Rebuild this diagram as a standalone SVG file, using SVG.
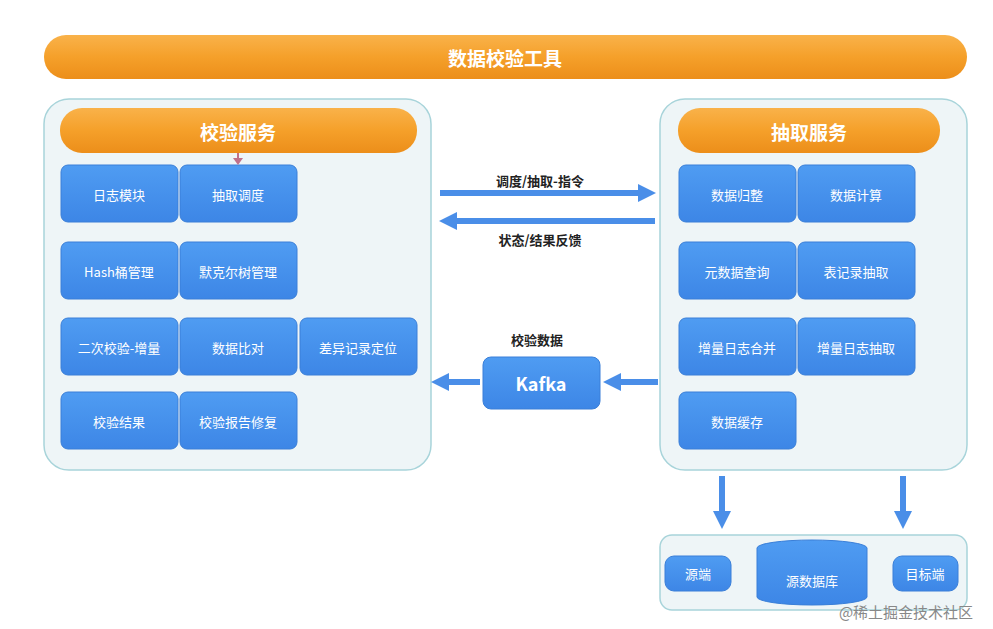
<svg xmlns="http://www.w3.org/2000/svg" width="993" height="629" viewBox="0 0 993 629">
<defs>
<linearGradient id="og" x1="0" y1="0" x2="0" y2="1"><stop offset="0" stop-color="#f9b24a"/><stop offset="0.5" stop-color="#f5a02a"/><stop offset="1" stop-color="#ec8e1a"/></linearGradient>
<linearGradient id="bg" x1="0" y1="0" x2="0" y2="1"><stop offset="0" stop-color="#4f9cf2"/><stop offset="1" stop-color="#3d86e6"/></linearGradient>
<marker id="ah" viewBox="0 0 10 10" refX="5" refY="5" markerWidth="3" markerHeight="3" orient="auto-start-reverse"><path d="M0,0 L10,5 L0,10 z" fill="#4a8ee8"/></marker>
</defs>
<style>
text{font-family:"Noto Sans CJK SC","Liberation Sans",sans-serif;text-anchor:middle;dominant-baseline:central}
.hdr{fill:url(#og)}
.ht{fill:#fff;font-size:19px;font-weight:bold}
.box{fill:#eef5f7;stroke:#a8d4da;stroke-width:1.5}
.n{fill:url(#bg);stroke:#3a7fd8;stroke-width:1}
.nt{fill:#fff;font-size:13px}
.lbl{fill:#222;font-size:13px;font-weight:bold}
.ar{stroke:#4a8ee8;stroke-width:6;fill:none;marker-end:url(#ah)}
</style>
<rect width="993" height="629" fill="#fff"/>
<g id="title"><rect class="hdr" x="44" y="35" width="923" height="44" rx="22"/><text class="ht" x="505" y="57">数据校验工具</text></g>
<g id="verify">
<rect class="box" x="44" y="99" width="387" height="371" rx="25"/>
<rect class="hdr" x="60" y="108" width="357" height="45" rx="22"/><text class="ht" x="238" y="131">校验服务</text>
</g>
<g id="v1"><rect class="n" x="61" y="165" width="117" height="57" rx="7"/><text class="nt" x="119" y="194">日志模块</text></g>
<g id="v2"><rect class="n" x="180" y="165" width="117" height="57" rx="7"/><text class="nt" x="238" y="194">抽取调度</text></g>
<g id="v3"><rect class="n" x="61" y="242" width="117" height="57" rx="7"/><text class="nt" x="119" y="271">Hash桶管理</text></g>
<g id="v4"><rect class="n" x="180" y="242" width="117" height="57" rx="7"/><text class="nt" x="238" y="271">默克尔树管理</text></g>
<g id="v5"><rect class="n" x="61" y="318" width="117" height="57" rx="7"/><text class="nt" x="119" y="347">二次校验-增量</text></g>
<g id="v6"><rect class="n" x="180" y="318" width="117" height="57" rx="7"/><text class="nt" x="238" y="347">数据比对</text></g>
<g id="v7"><rect class="n" x="300" y="318" width="117" height="57" rx="7"/><text class="nt" x="358" y="347">差异记录定位</text></g>
<g id="v8"><rect class="n" x="61" y="392" width="117" height="57" rx="7"/><text class="nt" x="119" y="421">校验结果</text></g>
<g id="v9"><rect class="n" x="180" y="392" width="117" height="57" rx="7"/><text class="nt" x="238" y="421">校验报告修复</text></g>
<g id="extract">
<rect class="box" x="660" y="99" width="307" height="371" rx="25"/>
<rect class="hdr" x="678" y="108" width="262" height="45" rx="22"/><text class="ht" x="809" y="131">抽取服务</text>
</g>
<g id="e1"><rect class="n" x="679" y="165" width="117" height="57" rx="7"/><text class="nt" x="737" y="194">数据归整</text></g>
<g id="e2"><rect class="n" x="798" y="165" width="117" height="57" rx="7"/><text class="nt" x="856" y="194">数据计算</text></g>
<g id="e3"><rect class="n" x="679" y="242" width="117" height="57" rx="7"/><text class="nt" x="737" y="271">元数据查询</text></g>
<g id="e4"><rect class="n" x="798" y="242" width="117" height="57" rx="7"/><text class="nt" x="856" y="271">表记录抽取</text></g>
<g id="e5"><rect class="n" x="679" y="318" width="117" height="57" rx="7"/><text class="nt" x="737" y="347">增量日志合并</text></g>
<g id="e6"><rect class="n" x="798" y="318" width="117" height="57" rx="7"/><text class="nt" x="856" y="347">增量日志抽取</text></g>
<g id="e7"><rect class="n" x="679" y="392" width="117" height="57" rx="7"/><text class="nt" x="737" y="421">数据缓存</text></g>
<g id="kafka"><rect class="n" x="483" y="357" width="117" height="52" rx="8"/><text x="541" y="383" style="fill:#fff;font-size:18px;font-weight:bold">Kafka</text><text class="lbl" x="537" y="339">校验数据</text></g>
<g id="db">
<rect class="box" x="660" y="535" width="307" height="75" rx="12"/>
<rect class="n" x="665" y="556" width="66" height="35" rx="9"/><text class="nt" x="698" y="573">源端</text>
<path class="n" d="M757,548 v49 a55,8 0 0 0 110,0 v-49 a55,8 0 0 0 -110,0 z"/><text class="nt" x="812" y="580">源数据库</text>
<rect class="n" x="893" y="556" width="65" height="35" rx="9"/><text class="nt" x="925" y="573">目标端</text>
</g>
<g id="connectors">
<path d="M238,153 v9" stroke="#c0708a" stroke-width="2"/><path d="M233,158 l5,7 l5,-7 z" fill="#c0708a"/>
<line class="ar" x1="440" y1="193" x2="647" y2="193"/>
<line class="ar" x1="655" y1="221" x2="448" y2="221"/>
<line class="ar" x1="658" y1="382" x2="612" y2="382"/>
<line class="ar" x1="480" y1="382" x2="440" y2="382"/>
<line class="ar" x1="722" y1="476" x2="722" y2="520"/>
<line class="ar" x1="903" y1="476" x2="903" y2="520"/>
<text class="lbl" x="540" y="180">调度/抽取-指令</text>
<text class="lbl" x="540" y="239">状态/结果反馈</text>
</g>
<text x="906" y="611" style="fill:#888;font-size:15px;font-family:'Noto Sans CJK SC',serif">@稀土掘金技术社区</text>
</svg>
